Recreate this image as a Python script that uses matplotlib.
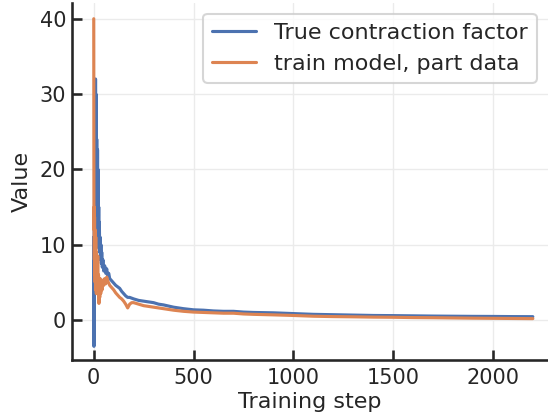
import matplotlib
matplotlib.use("Agg")
import matplotlib.pyplot as plt
import seaborn as sns

# contraction factor per training step
true_steps = [0, 1, 2, 3, 4, 5, 6, 7, 8, 9, 10, 11, 12, 13, 14, 15, 16, 17, 18, 19,
              20, 21, 22, 23, 24, 25, 26, 28, 30, 32, 34, 36, 38, 40, 43, 46, 50, 55,
              60, 65, 70, 75, 80, 90, 100, 110, 120, 130, 140, 150, 160, 170, 180, 190,
              200, 225, 250, 275, 300, 325, 350, 400, 450, 500, 550, 600, 650, 700, 750,
              800, 900, 1000, 1100, 1200, 1300, 1400, 1500, 1600, 1700, 1800, 1900, 2000,
              2100, 2200]
true_vals = [11, -3.5, 6, 12, 8, 15, 10, 24, 17, 32, 21, 30, 18, 25.5, 16, 24, 14, 20, 13, 22.6,
             12, 20, 11, 17, 10, 15, 9.5, 13, 9, 11, 8, 10, 7.5, 9, 7, 8, 6.5, 7.2,
             6.2, 6.8, 5.8, 6.2, 5.5, 5.2, 4.9, 4.6, 4.4, 4.2, 3.8, 3.5, 3.2, 3.0, 3.0, 2.9,
             2.8, 2.6, 2.5, 2.4, 2.3, 2.1, 2.0, 1.7, 1.5, 1.35, 1.3, 1.2, 1.15, 1.15, 1.05,
             1.0, 0.95, 0.85, 0.75, 0.7, 0.65, 0.6, 0.58, 0.55, 0.52, 0.5, 0.48, 0.47,
             0.45, 0.44]

model_steps = [0, 1, 2, 3, 4, 5, 6, 7, 8, 9, 10, 11, 12, 13, 14, 15, 16, 18, 20, 22,
               24, 26, 28, 30, 32, 35, 38, 42, 46, 50, 55, 60, 65, 70, 75, 80, 90, 100,
               110, 120, 130, 140, 150, 160, 170, 180, 190, 200, 225, 250, 275, 300, 325,
               350, 400, 450, 500, 550, 600, 650, 700, 750, 800, 900, 1000, 1100, 1200,
               1300, 1400, 1500, 1600, 1700, 1800, 1900, 2000, 2100, 2200]
model_vals = [40, 12, 15, 8, 13.7, 6, 12, 5, 10, 4, 11, 6, 9, 3.5, 8, 4, 7.5, 5, 8.5, 4,
              6, 2.2, 5, 3, 5.5, 3.5, 5, 4, 5.3, 4.6, 5.5, 4.8, 5.7, 5.2, 4.9, 4.6, 4.3, 4.0,
              3.6, 3.3, 3.0, 2.8, 2.5, 2.1, 1.6, 2.1, 2.3, 2.3, 2.1, 1.9, 1.8, 1.7, 1.6,
              1.5, 1.3, 1.15, 1.05, 1.0, 0.95, 0.9, 0.9, 0.8, 0.75, 0.68, 0.6, 0.5, 0.45,
              0.42, 0.38, 0.36, 0.32, 0.3, 0.27, 0.24, 0.22, 0.2, 0.18]

sns.set_theme(style="ticks", context="talk", rc={
    "axes.grid": True,
    "xtick.direction": "in",
    "ytick.direction": "in",
    "xtick.major.size": 7,
    "ytick.major.size": 7,
    "xtick.major.pad": 6,
    "ytick.major.pad": 4,
    "xtick.labelsize": 15,
    "ytick.labelsize": 15,
    "axes.labelsize": 16,
    "legend.fontsize": 16,
})

fig = plt.figure(figsize=(5.48, 4.18), dpi=100)
ax = fig.add_axes([0.131, 0.139, 0.869, 0.854])

ax.plot(true_steps, true_vals, label="True contraction factor")
ax.plot(model_steps, model_vals, label="train model, part data")

ax.set_xlim(-110, 2276)
ax.set_ylim(-5.3, 42.1)
ax.set_xlabel("Training step", labelpad=3)
ax.set_ylabel("Value", labelpad=6)
ax.set_yticks([0, 10, 20, 30, 40])
ax.set_xticks([0, 500, 1000, 1500, 2000])
ax.grid(True, color="#ebebeb", linewidth=1)
ax.legend(loc="upper right")
sns.despine()

plt.savefig("out.png", dpi=100)
